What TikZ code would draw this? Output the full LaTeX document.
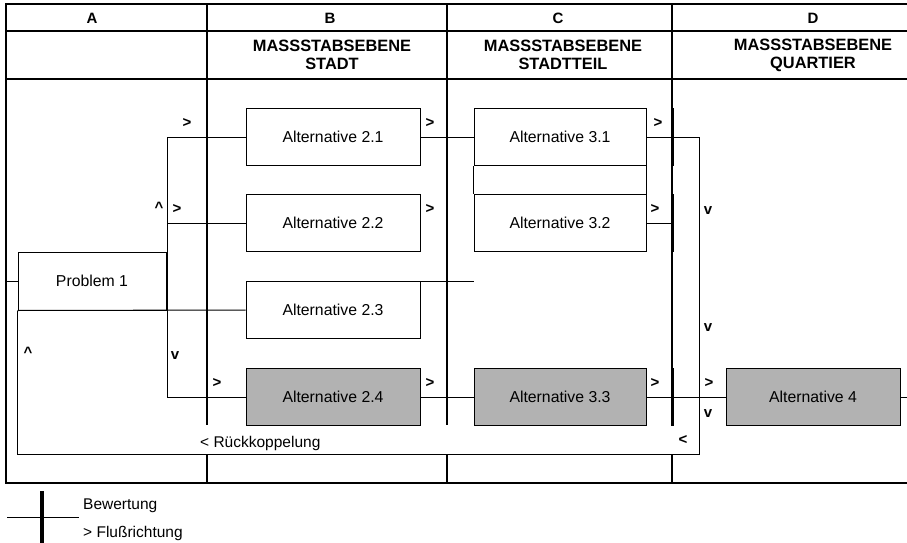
\documentclass[tikz,border=0pt]{standalone}
\usepackage{fontspec}
\setmainfont{Liberation Sans}

\tikzset{
	altbox/.style={draw, line width=1pt, minimum width=174pt, minimum height=57pt,
		inner sep=0pt, font=\fontsize{15.8}{17}\selectfont},
	shaded/.style={altbox, fill=black!30},
	link/.style={line width=1pt},
	grid/.style={line width=1.2pt},
	bewertung/.style={line width=3.6pt},
	richtung/.style={anchor=base, inner sep=0pt, font=\bfseries\fontsize{15}{15}\selectfont},
	kopf/.style={align=center, font=\bfseries\fontsize{16.4}{18}\selectfont},
	spalte/.style={font=\bfseries\fontsize{15}{15}\selectfont},
	notiz/.style={anchor=base west, inner sep=0pt, font=\fontsize{15.5}{17}\selectfont},
}

\begin{document}
\begin{tikzpicture}[x=1pt, y=-1pt]
	\useasboundingbox (0,0) rectangle (907,543);

	% table: frame, header rows, columns A-D
	\draw[grid] (907,4) -- (6,4) -- (6,483) -- (907,483);
	\draw[grid] (6,31) -- (907,31);
	\draw[grid] (6,79) -- (907,79);
	\foreach \x in {207,447,672} {
		\draw[grid] (\x,4) -- (\x,425);
		\draw[grid] (\x,454) -- (\x,483);
	}

	\node[spalte] (colA) at (92,18) {A};
	\node[spalte] (colB) at (330,18) {B};
	\node[spalte] (colC) at (558,18) {C};
	\node[spalte] (colD) at (813,18) {D};
	\node[kopf] (ebeneB) at (332,55) {MASSSTABSEBENE\\STADT};
	\node[kopf] (ebeneC) at (563,55) {MASSSTABSEBENE\\STADTTEIL};
	\node[kopf] (ebeneD) at (813,55) {MASSSTABSEBENE\\QUARTIER};

	% problem and alternatives
	\node[altbox, minimum width=148pt, minimum height=58pt] (prob) at (92,281) {Problem 1};
	\node[altbox] (alt21) at (333,137) {Alternative 2.1};
	\node[altbox] (alt22) at (333,223) {Alternative 2.2};
	\node[altbox] (alt23) at (333,310) {Alternative 2.3};
	\node[shaded] (alt24) at (333,397) {Alternative 2.4};
	\node[altbox, minimum width=172pt] (alt31) at (560,137) {Alternative 3.1};
	\node[altbox, minimum width=172pt] (alt32) at (560,223) {Alternative 3.2};
	\node[shaded, minimum width=172pt] (alt33) at (560,397) {Alternative 3.3};
	\node[shaded] (alt4) at (813,397) {Alternative 4};

	% branching from problem 1
	\coordinate (rand) at (6,281);
	\coordinate (v1) at (167,137);
	\coordinate (v2) at (167,223);
	\coordinate (v4) at (167,397);
	\draw[link] (rand) -- (prob.west);
	\draw[link] (v1) -- (v4);
	\draw[link] (v1) -- (alt21.west);
	\draw[link] (v2) -- (alt22.west);
	\draw[link] (prob.south west) -- (alt23.west);
	\draw[link] (v4) -- (alt24.west);

	% flow to the next levels
	\draw[link] (alt21.east) -- (alt31.west);
	\draw[link] (alt23.north east) -- (alt23.north east -| alt31.west);
	\draw[link] (alt31.south west) -- (alt32.north west);
	\draw[link] (alt31.south east) -- (alt32.north east);
	\draw[link] (alt32.east) -- ++(26,0);
	\draw[link] (alt24.east) -- (alt33.west);
	\draw[link] (alt33.east) -- (alt4.west);
	\coordinate (aus) at (907,397);
	\draw[link] (alt4.east) -- (aus);

	% feedback loop
	\coordinate (rk) at (699,454);
	\draw[link] (alt31.east) -| (rk) -| (prob.south west);

	% evaluation bars
	\draw[bewertung] ([xshift=26pt]alt31.north east) -- ([xshift=26pt]alt31.south east);
	\draw[bewertung] ([xshift=26pt]alt32.north east) -- ([xshift=26pt]alt32.south east);
	\draw[bewertung] ([xshift=26pt]alt33.north east) -- ([xshift=26pt]alt33.south east);

	% direction marks
	\node[richtung] (r1) at (187,127) {>};
	\node[richtung] (r2) at (177,213) {>};
	\node[richtung] (r3) at (159,212) {\textasciicircum};
	\node[richtung] (r4) at (430,127) {>};
	\node[richtung] (r5) at (430,213) {>};
	\node[richtung] (r6) at (658,127) {>};
	\node[richtung] (r7) at (655,213) {>};
	\node[richtung] (r8) at (708,214) {v};
	\node[richtung] (r9) at (708,331) {v};
	\node[richtung] (r10) at (175,359) {v};
	\node[richtung] (r11) at (28,357) {\textasciicircum};
	\node[richtung] (r12) at (217,387) {>};
	\node[richtung] (r13) at (430,387) {>};
	\node[richtung] (r14) at (655,387) {>};
	\node[richtung] (r15) at (709,387) {>};
	\node[richtung] (r16) at (708,417) {v};
	\node[richtung] (r17) at (683,444) {<};
	\node[notiz] (rueck) at (200,447) {< Rückkoppelung};

	% legend
	\draw[bewertung] (42,491) -- (42,543);
	\draw[link] (7,517) -- (79,517);
	\node[notiz] (bew) at (83,509) {Bewertung};
	\node[notiz] (flu) at (83,537) {> Flußrichtung};
\end{tikzpicture}
\end{document}
